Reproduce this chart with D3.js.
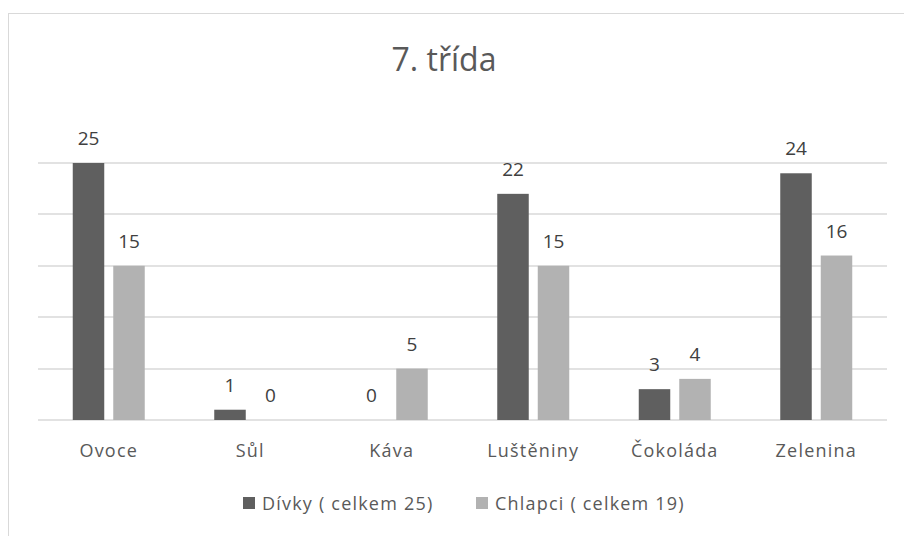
<!DOCTYPE html>
<html>
<head>
<meta charset="utf-8">
<script src="https://cdn.jsdelivr.net/npm/d3@7"></script>
<style>
  body { margin: 0; background: #fff; }
  svg { display: block; font-family: "Open Sans", sans-serif; }
</style>
</head>
<body>
<div id="chart"></div>
<script>
// Data
const categories = ['Ovoce', 'Sůl', 'Káva', 'Luštěniny', 'Čokoláda', 'Zelenina'];
const seriesNames = ['Dívky ( celkem 25)', 'Chlapci ( celkem 19)'];
const girls = [25, 1, 0, 22, 3, 24];
const boys = [15, 0, 5, 15, 4, 16];
const yTicks = [0, 5, 10, 15, 20, 25];
const colors = ['#5f5f5f', '#b2b2b2'];

const W = 904, H = 536;
const plot = { left: 38, right: 887, top: 163, bottom: 420 };

const svg = d3.select('#chart').append('svg')
    .attr('width', W)
    .attr('height', H);

// chart border
svg.append('rect')
    .attr('x', 8.5).attr('y', 13.5)
    .attr('width', W).attr('height', H)
    .attr('fill', 'none')
    .attr('stroke', '#d9d9d9');

svg.append('text')
    .attr('x', 444).attr('y', 71)
    .attr('text-anchor', 'middle')
    .attr('font-size', 32)
    .attr('fill', '#595959')
    .text('7. třída');

const x = d3.scaleBand().domain(categories).range([plot.left, plot.right]);
const y = d3.scaleLinear().domain([0, 25]).range([plot.bottom, plot.top]);

// gridlines
svg.append('g').selectAll('line')
    .data(yTicks)
    .enter().append('line')
    .attr('x1', plot.left).attr('x2', plot.right)
    .attr('y1', d => Math.round(y(d)))
    .attr('y2', d => Math.round(y(d)))
    .attr('stroke', '#d9d9d9')
    .attr('stroke-width', 1.5);

const barW = 31.5, gap = 9;
const series = [girls, boys];

series.forEach((vals, si) => {
    const offset = si === 0 ? -(gap / 2 + barW) : gap / 2;
    const g = svg.append('g');
    g.selectAll('rect')
        .data(vals)
        .enter().append('rect')
        .attr('x', (d, i) => x(categories[i]) + x.bandwidth() / 2 + offset)
        .attr('y', d => y(d))
        .attr('width', barW)
        .attr('height', d => y(0) - y(d))
        .attr('fill', colors[si]);
    g.selectAll('text')
        .data(vals)
        .enter().append('text')
        .attr('x', (d, i) => x(categories[i]) + x.bandwidth() / 2 + offset + barW / 2)
        .attr('y', d => y(d) - 18)
        .attr('text-anchor', 'middle')
        .attr('font-size', 19)
        .attr('fill', '#404040')
        .text(d => d);
});

// category labels
svg.append('g').selectAll('text')
    .data(categories)
    .enter().append('text')
    .attr('x', d => x(d) + x.bandwidth() / 2)
    .attr('y', 457)
    .attr('text-anchor', 'middle')
    .attr('font-size', 18)
    .attr('letter-spacing', 1.2)
    .attr('fill', '#595959')
    .text(d => d);

// legend
const legendX = [243, 476];
const legend = svg.append('g');
seriesNames.forEach((name, i) => {
    legend.append('rect')
        .attr('x', legendX[i]).attr('y', 497)
        .attr('width', 12).attr('height', 12)
        .attr('fill', colors[i]);
    legend.append('text')
        .attr('x', legendX[i] + 19).attr('y', 510)
        .attr('font-size', 18)
        .attr('letter-spacing', 1.2)
        .attr('fill', '#595959')
        .text(name);
});
</script>
</body>
</html>
